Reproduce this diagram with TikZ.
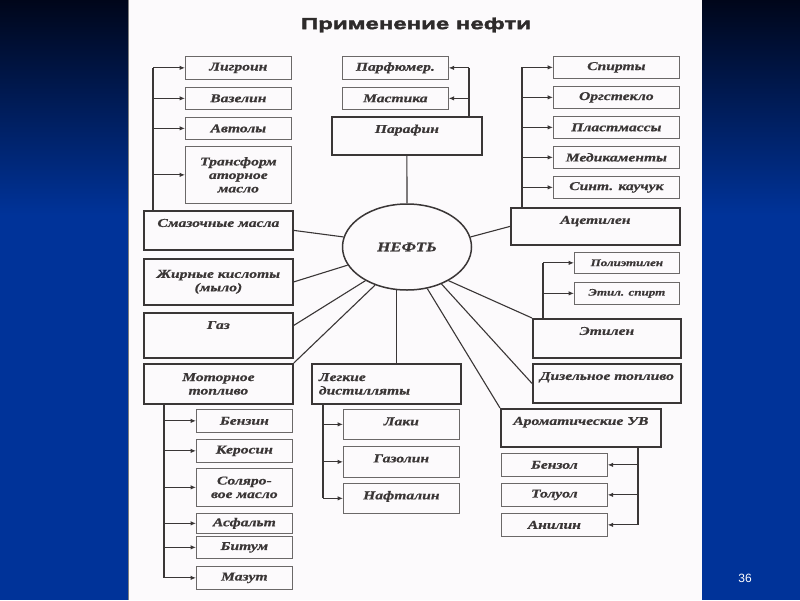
\documentclass[tikz,border=0pt]{standalone}
\usepackage{fontspec}
\newfontfamily\boxfont[FakeStretch=1.3,FakeBold=0.6]{Liberation Serif}
\newfontfamily\titlefont[FakeStretch=1.5,FakeBold=2.5]{Liberation Sans}
\newfontfamily\numfont{Liberation Sans}
\usetikzlibrary{arrows.meta,shapes.geometric,positioning}
\definecolor{ink}{HTML}{3A3636}
\definecolor{paper}{HTML}{FCFAFC}
\definecolor{slideblue}{HTML}{003399}
\definecolor{slidetop}{HTML}{00061A}

\begin{document}
\begin{tikzpicture}[x=1pt,y=-1pt,
	every node/.style={anchor=north west,inner sep=3pt,align=center,text=ink,font=\boxfont\bfseries\itshape\fontsize{12}{13.5}\selectfont},
	subbox/.style={draw=ink!75,line width=.7pt},
	mainbox/.style={draw=ink,line width=1.8pt},
	toptext/.style={text height=13pt,text depth=#1},
	feed/.style={draw=ink,line width=1pt,-{Latex[length=5.5pt,width=4.5pt]}},
	busline/.style={draw=ink,line width=1.8pt},
	spoke/.style={draw=ink,line width=1.1pt}]
	% slide background
	\useasboundingbox (0,0) rectangle (800,600);
	\shade[top color=slidetop,bottom color=slideblue] (0,0) rectangle (800,215);
	\fill[slideblue] (0,215) rectangle (800,600);
	\fill[paper] (128,0) rectangle (702,600);
	\draw[gray,line width=.6pt] (128,0) -- (128,600);
	\node[anchor=center,text=white,font=\numfont\fontsize{12}{14}\selectfont] (pnum) at (745,578) {36};
	
	\node[anchor=center,text=ink!80!black,font=\titlefont\bfseries\fontsize{16}{18}\selectfont] (title) at (416,25) {Применение нефти};
	
	% centre
	\node[ellipse,draw=ink,line width=1.5pt,anchor=center,minimum width=129,minimum height=86,font=\boxfont\bfseries\itshape\fontsize{13}{15}\selectfont] (neft) at (407,247) {НЕФТЬ};
	\node[subbox,minimum width=106,minimum height=23] (parf) at (342,56) {Парфюмер.};
	\node[subbox,minimum width=106,minimum height=22] (mast) at (342,87) {Мастика};
	\node[mainbox,toptext=19pt,minimum width=150] (paraf) at (331,116) {Парафин};
	\node[mainbox,minimum width=149,minimum height=40,text width=135,align=left,inner xsep=7pt] (legk) at (311,363) {Легкие\\дистилляты};
	\node[subbox,toptext=11pt,minimum width=116] (laki) at (343,409) {Лаки};
	\node[subbox,toptext=12pt,minimum width=116] (gazol) at (343,446) {Газолин};
	\node[subbox,toptext=11pt,minimum width=116] (naft) at (343,483) {Нафталин};
	
	% left column
	\node[subbox,minimum width=106,minimum height=23] (ligr) at (185,56) {Лигроин};
	\node[subbox,minimum width=106,minimum height=22] (vaz) at (185,87) {Вазелин};
	\node[subbox,minimum width=106,minimum height=22] (avt) at (185,117) {Автолы};
	\node[subbox,minimum width=106,minimum height=57] (trans) at (185,146) {Трансформ\\аторное\\масло};
	\node[mainbox,toptext=20pt,minimum width=149] (smaz) at (143,210) {Смазочные масла};
	\node[mainbox,minimum width=149,minimum height=46] (zhir) at (143,258) {Жирные кислоты\\(мыло)};
	\node[mainbox,toptext=26pt,minimum width=149] (gaz) at (143,312) {Газ};
	\node[mainbox,minimum width=149,minimum height=40] (motor) at (143,363) {Моторное\\топливо};
	\node[subbox,minimum width=96,minimum height=23] (benzin) at (196,409) {Бензин};
	\node[subbox,minimum width=96,minimum height=23] (keros) at (196,439) {Керосин};
	\node[subbox,minimum width=96,minimum height=38] (solar) at (196,468) {Соляро-\\вое масло};
	\node[subbox,minimum width=96,minimum height=20] (asf) at (196,513) {Асфальт};
	\node[subbox,minimum width=96,minimum height=22] (bitum) at (196,536) {Битум};
	\node[subbox,minimum width=96,minimum height=23] (mazut) at (196,566) {Мазут};
	
	% right column
	\node[subbox,minimum width=126,minimum height=22] (spirt) at (553,56) {Спирты};
	\node[subbox,minimum width=126,minimum height=22] (orgst) at (553,86) {Оргстекло};
	\node[subbox,minimum width=126,minimum height=22] (plast) at (553,116) {Пластмассы};
	\node[subbox,minimum width=126,minimum height=22] (medik) at (553,146) {Медикаменты};
	\node[subbox,minimum width=126,minimum height=22] (kauch) at (553,176) {Синт. каучук};
	\node[mainbox,toptext=18pt,minimum width=169] (acet) at (510,207) {Ацетилен};
	\node[subbox,minimum width=105,minimum height=21,font=\boxfont\bfseries\itshape\fontsize{10}{12}\selectfont] (polyet) at (574,252) {Полиэтилен};
	\node[subbox,minimum width=105,minimum height=22,font=\boxfont\bfseries\itshape\fontsize{10}{12}\selectfont] (etsp) at (574,282) {Этил. спирт};
	\node[mainbox,toptext=20pt,minimum width=148] (etil) at (532,318) {Этилен};
	\node[mainbox,toptext=20pt,minimum width=148] (dizel) at (532,363) {Дизельное топливо};
	\node[mainbox,toptext=19pt,minimum width=160] (arom) at (500,408) {Ароматические УВ};
	\node[subbox,minimum width=106,minimum height=23] (benzol) at (501,453) {Бензол};
	\node[subbox,minimum width=106,minimum height=23] (toluol) at (501,483) {Толуол};
	\node[subbox,minimum width=106,minimum height=23] (anil) at (501,513) {Анилин};
	
	% bus lines
	\coordinate (lbus) at (153,0);
	\coordinate (mbus) at (164,0);
	\coordinate (dbus) at (323,0);
	\coordinate (pbus) at (469,0);
	\coordinate (rbus) at (522,0);
	\coordinate (ebus) at (543,0);
	\coordinate (abus) at (638,0);
	
	\draw[busline] (smaz.north -| lbus) -- (ligr.west -| lbus);
	\foreach \n in {ligr,vaz,avt,trans}
		\draw[feed] (\n.west -| lbus) -- (\n.west);
	\draw[busline] (motor.south -| mbus) -- (mazut.west -| mbus);
	\foreach \n in {benzin,keros,solar,asf,bitum,mazut}
		\draw[feed] (\n.west -| mbus) -- (\n.west);
	\draw[busline] (legk.south -| dbus) -- (naft.west -| dbus);
	\foreach \n in {laki,gazol,naft}
		\draw[feed] (\n.west -| dbus) -- (\n.west);
	\draw[busline] (paraf.north -| pbus) -- (parf.east -| pbus);
	\foreach \n in {parf,mast}
		\draw[feed] (\n.east -| pbus) -- (\n.east);
	\draw[busline] (acet.north -| rbus) -- (spirt.west -| rbus);
	\foreach \n in {spirt,orgst,plast,medik,kauch}
		\draw[feed] (\n.west -| rbus) -- (\n.west);
	\draw[busline] (etil.north -| ebus) -- (polyet.west -| ebus);
	\foreach \n in {polyet,etsp}
		\draw[feed] (\n.west -| ebus) -- (\n.west);
	\draw[busline] (arom.south -| abus) -- (anil.east -| abus);
	\foreach \n in {benzol,toluol,anil}
		\draw[feed] (\n.east -| abus) -- (\n.east);
	
	% spokes from the centre
	\draw[spoke] (paraf.south) -- (neft.north);
	\draw[spoke] (smaz.east) -- (neft.171);
	\draw[spoke] (zhir.east) -- (neft.197);
	\draw[spoke] ([yshift=10pt]gaz.east) -- (neft.219);
	\draw[spoke] (motor.north east) -- (neft.230);
	\draw[spoke] (neft.256) -- (neft.256 |- legk.north);
	\draw[spoke] (neft.9) -- (acet.west);
	\draw[spoke] (neft.321) -- (etil.north west);
	\draw[spoke] (neft.313) -- (dizel.west);
	\draw[spoke] (neft.296) -- (arom.north west);
\end{tikzpicture}
\end{document}
